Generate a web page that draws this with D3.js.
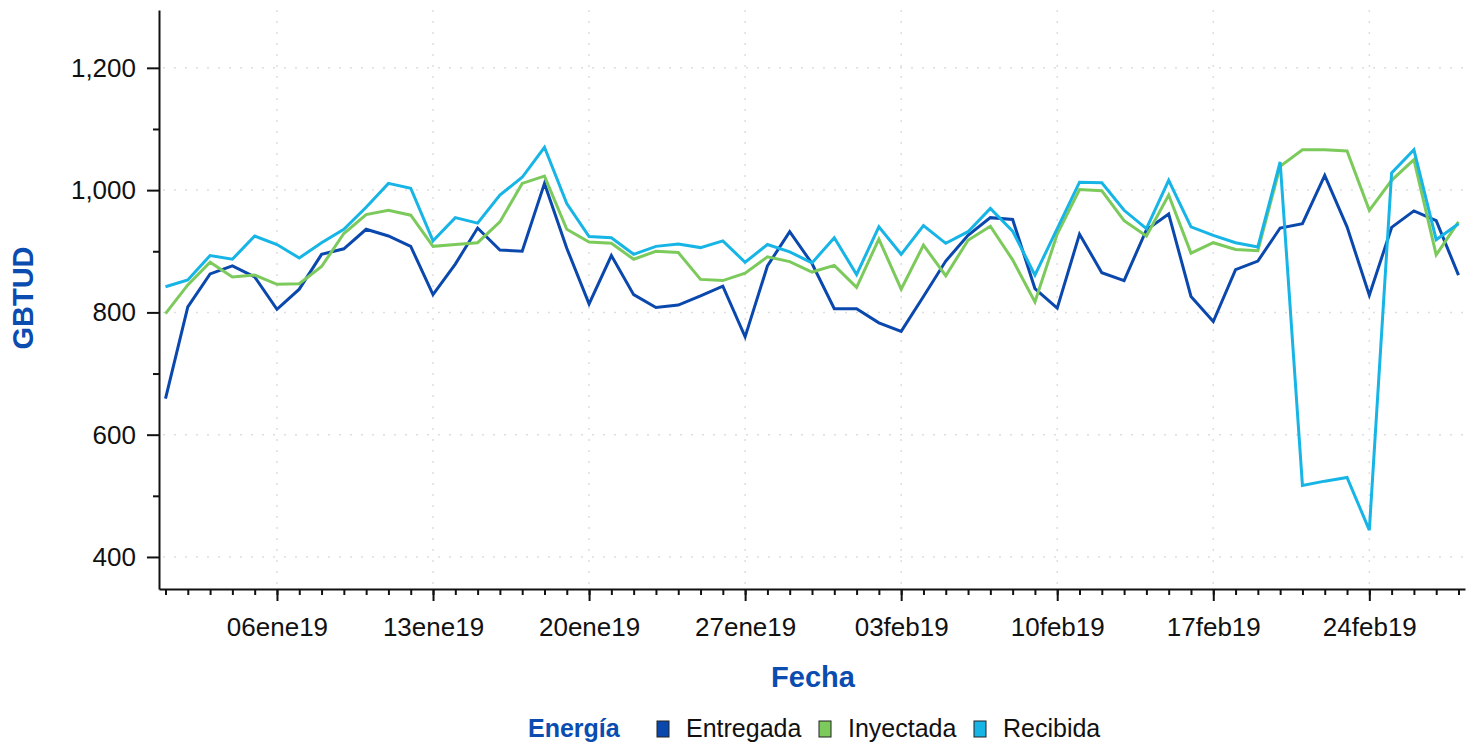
<!DOCTYPE html>
<html>
<head>
<meta charset="utf-8">
<script src="https://cdn.jsdelivr.net/npm/d3@7"></script>
<style>
  body { margin: 0; background: #fff; }
  svg text { font-family: "Liberation Sans", Arial, Helvetica, sans-serif; }
</style>
</head>
<body>
<div id="chart"></div>
<script>
// Datos diarios, 1 ene 2019 - 28 feb 2019
const startDate = new Date(2019, 0, 1);
const endDate = new Date(2019, 1, 28);
const fechas = d3.timeDay.range(startDate, d3.timeDay.offset(endDate, 1));

const entregada = [659, 809, 863, 876, 858, 805, 838, 895, 904, 936, 925, 908, 829, 879, 938, 902, 900, 1011, 905, 814,
  893, 829, 808, 812, 827, 843, 760, 876, 932, 880, 806, 806, 783, 769, 826, 884, 926, 955, 952, 839,
  807, 928, 865, 852, 935, 961, 826, 785, 870, 884, 938, 945, 1024, 940, 828, 939, 966, 950, 861];
const inyectada = [798, 845, 882, 858, 861, 846, 847, 875, 929, 960, 967, 959, 908, 911, 914, 948, 1011, 1023, 936, 915,
  913, 887, 900, 898, 854, 852, 864, 891, 883, 866, 877, 841, 920, 838, 910, 860, 918, 941, 886, 817,
  928, 1001, 999, 950, 925, 992, 897, 914, 903, 901, 1039, 1066, 1066, 1064, 967, 1016, 1050, 894, 948];
const recibida = [842, 853, 893, 887, 925, 911, 889, 914, 936, 972, 1011, 1003, 917, 955, 946, 992, 1021, 1070, 978, 924,
  922, 895, 908, 912, 906, 917, 882, 911, 899, 881, 922, 862, 940, 895, 942, 913, 932, 970, 933, 861,
  937, 1013, 1012, 967, 937, 1016, 940, 926, 914, 907, 1046, 517, 524, 530, 444, 1028, 1066, 919, 945];

const seriesNames = ['Entregada', 'Inyectada', 'Recibida'];
const seriesColors = ['#0a48ad', '#7dca5c', '#17b4e6'];
const seriesValues = [entregada, inyectada, recibida];

const yTicks = [400, 600, 800, 1000, 1200];
const yMinorTicks = [500, 700, 900, 1100];
const xMajorTicks = [new Date(2019, 0, 6), new Date(2019, 0, 13), new Date(2019, 0, 20), new Date(2019, 0, 27),
  new Date(2019, 1, 3), new Date(2019, 1, 10), new Date(2019, 1, 17), new Date(2019, 1, 24)];

const esLocale = d3.timeFormatLocale({
    dateTime: '%x %X', date: '%d/%m/%Y', time: '%H:%M:%S', periods: ['AM', 'PM'],
    days: ['domingo', 'lunes', 'martes', 'miércoles', 'jueves', 'viernes', 'sábado'],
    shortDays: ['dom', 'lun', 'mar', 'mié', 'jue', 'vie', 'sáb'],
    months: ['enero', 'febrero', 'marzo', 'abril', 'mayo', 'junio', 'julio', 'agosto', 'septiembre', 'octubre', 'noviembre', 'diciembre'],
    shortMonths: ['ene', 'feb', 'mar', 'abr', 'may', 'jun', 'jul', 'ago', 'sep', 'oct', 'nov', 'dic']
});
const fmtFecha = esLocale.format('%d%b%y');

const width = 1474, height = 744;
const plot = { left: 159, right: 1465, top: 10, bottom: 589 };
const blue = '#0a4cb0';

const svg = d3.select('#chart').append('svg')
    .attr('width', width)
    .attr('height', height);

// un poco de margen a cada lado del rango de fechas
const x = d3.scaleTime()
    .domain([d3.timeHour.offset(startDate, -7), d3.timeHour.offset(endDate, 7)])
    .range([plot.left, plot.right]);

const y = d3.scaleLinear()
    .domain([347.6, 1294.6])
    .range([plot.bottom, plot.top]);

// grilla punteada
const grid = svg.append('g').attr('stroke', '#dedede').attr('stroke-width', 1.5).attr('stroke-dasharray', '2,9');
grid.selectAll('.hg').data(yTicks).enter().append('line')
    .attr('x1', plot.left + 4).attr('x2', plot.right)
    .attr('y1', d => y(d)).attr('y2', d => y(d));
grid.selectAll('.vg').data(xMajorTicks).enter().append('line')
    .attr('x1', d => x(d)).attr('x2', d => x(d))
    .attr('y1', plot.top).attr('y2', plot.bottom - 3);

// lineas
const line = d3.line()
    .x((d, i) => x(fechas[i]))
    .y(d => y(d));

svg.append('g').selectAll('path')
    .data(seriesValues)
    .enter()
    .append('path')
    .attr('d', d => line(d))
    .attr('fill', 'none')
    .attr('stroke', (d, i) => seriesColors[i])
    .attr('stroke-width', 3)
    .attr('stroke-linejoin', 'miter');

// eje x
const xMinor = svg.append('g')
    .attr('transform', `translate(0,${plot.bottom})`)
    .call(d3.axisBottom(x).tickValues(fechas).tickSize(6).tickSizeOuter(0).tickFormat(''));
const xMajor = svg.append('g')
    .attr('transform', `translate(0,${plot.bottom})`)
    .call(d3.axisBottom(x).tickValues(xMajorTicks).tickSize(12).tickSizeOuter(0).tickPadding(17).tickFormat(fmtFecha));
xMajor.select('.domain').remove();

// eje y
const yMinor = svg.append('g')
    .attr('transform', `translate(${plot.left},0)`)
    .call(d3.axisLeft(y).tickValues(yMinorTicks).tickSize(6).tickSizeOuter(0).tickFormat(''));
const yMajor = svg.append('g')
    .attr('transform', `translate(${plot.left},0)`)
    .call(d3.axisLeft(y).tickValues(yTicks).tickSize(12).tickSizeOuter(0).tickPadding(11).tickFormat(d3.format(',')));
yMajor.select('.domain').remove();

svg.selectAll('.domain, .tick line').attr('stroke', '#111').attr('stroke-width', 2);
svg.selectAll('.tick text').attr('font-size', 26).attr('fill', '#111');

// titulos de ejes
svg.append('text')
    .attr('transform', 'translate(33,298) rotate(-90)')
    .attr('text-anchor', 'middle')
    .attr('font-size', 29)
    .attr('font-weight', 'bold')
    .attr('fill', blue)
    .text('GBTUD');

svg.append('text')
    .attr('x', 813).attr('y', 687)
    .attr('text-anchor', 'middle')
    .attr('font-size', 29)
    .attr('font-weight', 'bold')
    .attr('fill', blue)
    .text('Fecha');

// leyenda
const legendY = 737;
const legend = svg.append('g');
legend.append('text')
    .attr('x', 528).attr('y', legendY)
    .attr('font-size', 25)
    .attr('font-weight', 'bold')
    .attr('fill', blue)
    .text('Energía');

const legendX = [657, 819, 974];
const items = legend.selectAll('.item')
    .data(seriesNames)
    .enter()
    .append('g')
    .attr('transform', (d, i) => `translate(${legendX[i]},0)`);
items.append('rect')
    .attr('x', 0).attr('y', legendY - 16)
    .attr('width', 12).attr('height', 16)
    .attr('fill', (d, i) => seriesColors[i])
    .attr('stroke', '#222')
    .attr('stroke-width', 1);
items.append('text')
    .attr('x', 29).attr('y', legendY)
    .attr('font-size', 25)
    .attr('fill', '#111')
    .text(d => d);
</script>
</body>
</html>
